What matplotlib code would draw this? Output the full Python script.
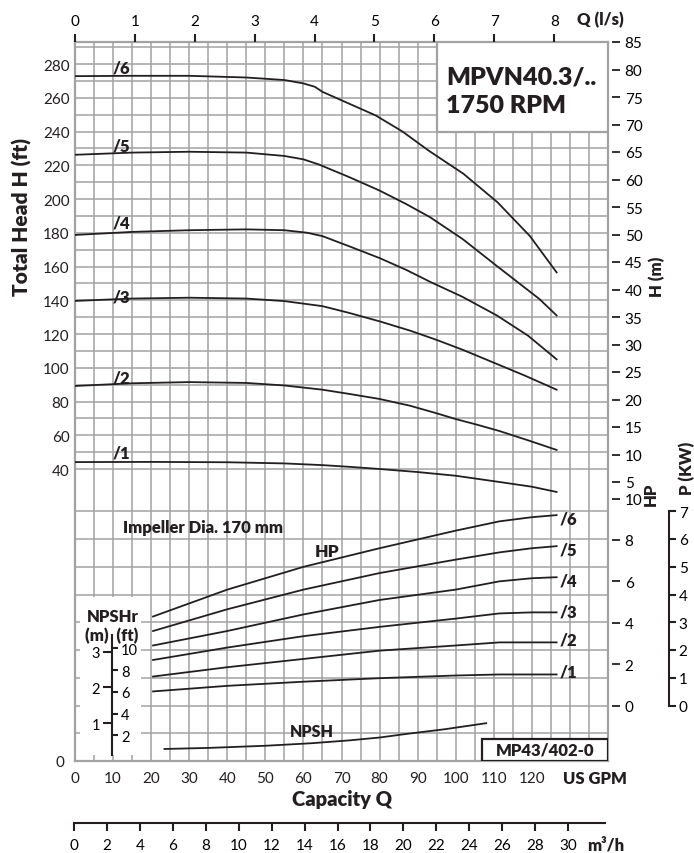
import matplotlib
matplotlib.use("Agg")
import matplotlib.pyplot as plt
import numpy as np
from matplotlib.patches import Rectangle

plt.rcParams.update(
    {
        "font.family": ["Lato", "DejaVu Sans"],
        "font.size": 10.5,
        "text.color": "#231f20",
    }
)

# %% Data

gpm_ticks = list(range(0, 121, 10))
ls_ticks = list(range(0, 9))
m3h_ticks = list(range(0, 31, 2))
ft_ticks = list(range(40, 281, 20))
hm_ticks = list(range(5, 86, 5))
hp_ticks = [0, 2, 4, 6, 8, 10]
kw_ticks = list(range(0, 8))
npsh_m_ticks = [1, 2, 3]
npsh_ft_ticks = [2, 4, 6, 8, 10]

stage_names = ["/1", "/2", "/3", "/4", "/5", "/6"]

# head curves, Q in US GPM, H in ft
q_h1 = [0, 20, 40, 55, 65, 72, 80, 90, 100, 111.5, 120, 126.5]
h1 = [44.1, 44.2, 44, 43.3, 42.3, 41.3, 40, 38.2, 36, 32.3, 29.5, 26.4]
q_h2 = [0, 15, 30, 45, 55, 65, 72, 80, 88, 95, 100, 106, 111.5, 119, 126.5]
h2 = [89.2, 90.8, 91.5, 91, 89.5, 87, 84.5, 81.5, 77.5, 73, 69.6, 66, 62.5, 57, 51.3]
q_h3 = [0, 15, 30, 45, 55, 65, 72, 80, 88, 95, 102, 110, 118, 126.5]
h3 = [139.6, 141, 141.5, 141, 139.5, 136.5, 132.5, 127.5, 122, 116.5, 110.5, 103, 95.5, 87]
q_h4 = [0, 15, 30, 45, 55, 61, 65, 72, 80, 87, 93.2, 101.8, 110.8, 119, 126.5]
h4 = [178.7, 180.5, 181.5, 182, 181.5, 180, 178, 172, 165, 158, 151, 142, 131, 119, 105]
q_h5 = [0, 15, 30, 45, 55, 60, 64, 72, 80, 87, 93.2, 101.8, 110.8, 122, 126.5]
h5 = [226.2, 227.5, 228, 227.5, 225.5, 223.5, 220.5, 213, 205, 197, 189.3, 176.3, 160.3, 140.7, 131]
q_h6 = [0, 15, 30, 45, 55, 60, 63, 65, 69, 72, 79, 86, 93, 102, 111, 119.5, 126.5]
h6 = [272.8, 273, 273, 272, 270.5, 268.5, 266.5, 263.5, 259.5, 256.5, 249.5, 240, 228.5, 215, 198, 178, 156.5]

# power curves, HP
q_p = [20.5, 40, 60, 80, 100, 111.5, 120, 126.5]
p1 = [0.68, 0.95, 1.15, 1.32, 1.45, 1.5, 1.5, 1.5]
p2 = [1.4, 1.85, 2.25, 2.65, 2.9, 3.05, 3.05, 3.05]
p3 = [2.2, 2.8, 3.35, 3.8, 4.2, 4.45, 4.5, 4.5]
p4 = [2.9, 3.6, 4.4, 5.1, 5.6, 6.0, 6.15, 6.2]
p5 = [3.6, 4.65, 5.6, 6.4, 7.05, 7.4, 7.6, 7.7]
p6 = [4.3, 5.6, 6.7, 7.6, 8.45, 8.9, 9.1, 9.2]

# NPSH required, m
q_npsh = [23.5, 35, 50, 62, 72, 80, 87, 97, 108]
npsh = [0.28, 0.31, 0.37, 0.44, 0.52, 0.6, 0.7, 0.83, 1.0]

# %% Layout helpers (pixel positions of the sheet)

W, H = 694, 854
INK = "#231f20"
GRID = "#a2a2a2"
HEAVY = "heavy"


def box(x0, y0, x1, y1):
    return [x0 / W, 1 - y1 / H, (x1 - x0) / W, (y1 - y0) / H]


def fx(x):
    return x / W


def fy(y):
    return 1 - y / H


PL, PT, PR, PB = 75, 43, 608, 762

fig = plt.figure(figsize=(W / 100, H / 100), dpi=100)

# %% Main axes: GPM vs head in ft

ax = fig.add_axes(box(PL, PT, PR, PB))
ft_top = 40 + (470 - PT) / 1.6875
ft_bot = 40 - (PB - 470) / 1.6875
ax.set_xlim(0, 140)
ax.set_ylim(ft_bot, ft_top)

ax.vlines(np.arange(5, 140, 5), ft_bot, ft_top, color=GRID, lw=1.1, zorder=1)
ax.hlines(np.arange(40, 291, 10), 0, 140, color=GRID, lw=1.1, zorder=1)
for s in ax.spines.values():
    s.set_color(GRID)
    s.set_linewidth(1.6)

ax.set_xticks(gpm_ticks)
ax.set_yticks(ft_ticks)
ax.tick_params(length=0, labelsize=11, labelcolor=INK)
ax.tick_params(axis="x", pad=7)
ax.tick_params(axis="y", pad=4)

head_q = [q_h1, q_h2, q_h3, q_h4, q_h5, q_h6]
head_h = [h1, h2, h3, h4, h5, h6]
head_label_ft = [50, 94.5, 142.5, 186, 232, 278]
for name, q, h, ly in zip(stage_names, head_q, head_h, head_label_ft):
    ax.plot(q, h, color=INK, lw=1.3, zorder=3)
    ax.text(12.3, ly, name, ha="center", va="center", fontweight=HEAVY, fontsize=12)

ax.add_patch(
    Rectangle((95, 240), 45, ft_top - 240, facecolor="white", edgecolor=GRID, lw=1.6, zorder=4)
)

# %% kW grid (lower part) and overlays

kw_top = (706.5 - PT) / 27.75
axk = ax.twinx()
axk.set_ylim(-2, kw_top)
axk.set_yticks([])
for s in axk.spines.values():
    s.set_visible(False)
axk.hlines(np.arange(-1, 8), 0, 140, color=GRID, lw=1.1, zorder=1)
axk.add_patch(Rectangle((1.3, -1.78), 16, 5.69, facecolor="white", edgecolor="none", zorder=2))
axk.add_patch(Rectangle((106.8, -2), 33.2, 0.8, facecolor="white", edgecolor=INK, lw=1.6, zorder=5))
axk.text(123.4, -1.6, "MP43/402-0", ha="center", va="center", fontweight=HEAVY, fontsize=12, zorder=6)

# %% HP curves

axh = ax.twinx()
axh.set_ylim(-2 / 0.7457, kw_top / 0.7457)
for name, p, ly in zip(stage_names, [p1, p2, p3, p4, p5, p6], [1.62, 3.21, 4.52, 6.06, 7.56, 9.06]):
    axh.plot(q_p, p, color=INK, lw=1.3, zorder=3)
    axh.text(127.3, ly, name, ha="left", va="center", fontweight=HEAVY, fontsize=12)
axh.set_yticks(hp_ticks)
for s in axh.spines.values():
    s.set_visible(False)
axh.spines["right"].set_position(("outward", 3))
axh.tick_params(axis="y", length=6, width=1.3, color=INK, labelsize=11, pad=3)

# H (m) scale
axm = ax.twinx()
axm.set_ylim(85 - (PB - PT) / 5.5, 85)
axm.set_yticks(hm_ticks)
for s in axm.spines.values():
    s.set_visible(False)
axm.spines["right"].set_position(("outward", 3))
axm.tick_params(axis="y", length=6, width=1.3, color=INK, labelsize=11, pad=3)

# NPSH curve
axn = ax.twinx()
axn.set_ylim(-2 / 36, (764 - PT) / 36)
axn.set_yticks([])
for s in axn.spines.values():
    s.set_visible(False)
axn.plot(q_npsh, npsh, color=INK, lw=1.3)

# top Q (l/s) scale
axt = ax.twiny()
axt.set_xlim(0, (PR - PL) / 59.9)
axt.set_xticks(ls_ticks)
for s in axt.spines.values():
    s.set_visible(False)
axt.tick_params(axis="x", length=6, width=1.5, color=INK, labelsize=11, pad=4)

# %% NPSHr scale (m on the left, ft on the right)

ax_nm = fig.add_axes(box(112, PT, 140, PB))
ax_nm.set_ylim(-2 / 36, (764 - PT) / 36)
ax_nm.patch.set_visible(False)
for side in ["top", "right", "bottom"]:
    ax_nm.spines[side].set_visible(False)
ax_nm.spines["left"].set_bounds(0.1, 3.45)
ax_nm.spines["left"].set_linewidth(1.5)
ax_nm.spines["left"].set_color(INK)
ax_nm.set_xticks([])
ax_nm.set_yticks(npsh_m_ticks)
ax_nm.tick_params(axis="y", length=6.5, width=1.5, color=INK, labelsize=10.5, pad=2)

ax_nf = fig.add_axes(box(100, PT, 112, PB))
ax_nf.set_ylim(-4 / 11, (766 - PT) / 11)
ax_nf.patch.set_visible(False)
for s in ax_nf.spines.values():
    s.set_visible(False)
ax_nf.set_xticks([])
ax_nf.yaxis.tick_right()
ax_nf.set_yticks(npsh_ft_ticks)
ax_nf.tick_params(axis="y", length=4.5, width=1.5, color=INK, labelsize=10.5, pad=2)

# %% P (KW) scale

ax_kw = fig.add_axes(box(640, PT, 669, PB))
ax_kw.set_ylim(-2, kw_top)
ax_kw.patch.set_visible(False)
for side in ["top", "left", "bottom"]:
    ax_kw.spines[side].set_visible(False)
ax_kw.spines["right"].set_bounds(0, 7)
ax_kw.spines["right"].set_linewidth(1.5)
ax_kw.spines["right"].set_color(INK)
ax_kw.set_xticks([])
ax_kw.yaxis.tick_right()
ax_kw.set_yticks(kw_ticks)
ax_kw.tick_params(axis="y", length=5, width=1.5, color=INK, labelsize=11, pad=2)

# %% m3/h scale

ax_m3 = fig.add_axes([74 / W, 1 - 824 / H, 531 / W, 1e-4])
ax_m3.set_xlim(0, 531 / 16.47)
ax_m3.patch.set_visible(False)
for side in ["top", "left", "right"]:
    ax_m3.spines[side].set_visible(False)
ax_m3.spines["bottom"].set_linewidth(1.5)
ax_m3.spines["bottom"].set_color(INK)
ax_m3.set_yticks([])
ax_m3.set_xticks(m3h_ticks)
ax_m3.tick_params(axis="x", length=6, width=1.5, color=INK, labelsize=11, pad=5)

# %% Labels

bold = dict(ha="center", va="center", fontweight=HEAVY)
fig.text(fx(22), fy(217), "Total Head H (ft)", rotation=90, fontsize=15, **bold)
fig.text(fx(600), fy(20), "Q (l/s)", fontsize=12, **bold)
fig.text(fx(595), fy(779), "US GPM", fontsize=12, **bold)
fig.text(fx(342), fy(800), "Capacity Q", fontsize=14.5, **bold)
fig.text(fx(606), fy(846), "m³/h", fontsize=12, **bold)
fig.text(fx(657), fy(277), "H (m)", rotation=90, fontsize=12, **bold)
fig.text(fx(651), fy(494), "HP", rotation=90, fontsize=12, **bold)
fig.text(fx(687), fy(468), "P (KW)", rotation=90, fontsize=12, **bold)
fig.text(fx(446), fy(78), "MPVN40.3/..", ha="left", va="center", fontweight=HEAVY, fontsize=18)
fig.text(fx(446), fy(106), "1750 RPM", ha="left", va="center", fontweight=HEAVY, fontsize=18)
fig.text(fx(123), fy(528), "Impeller Dia. 170 mm", ha="left", va="center", fontweight=HEAVY, fontsize=12)
fig.text(fx(327), fy(552), "HP", fontsize=12.5, **bold)
fig.text(fx(312), fy(732), "NPSH", fontsize=11.5, **bold)
fig.text(fx(113), fy(617), "NPSHr", fontsize=12, **bold)
fig.text(fx(112), fy(636), "(m)  (ft)", fontsize=12, **bold)
fig.text(fx(60), fy(763), "0", ha="center", va="center", fontsize=11)

fig.savefig("out.png", dpi=100)
